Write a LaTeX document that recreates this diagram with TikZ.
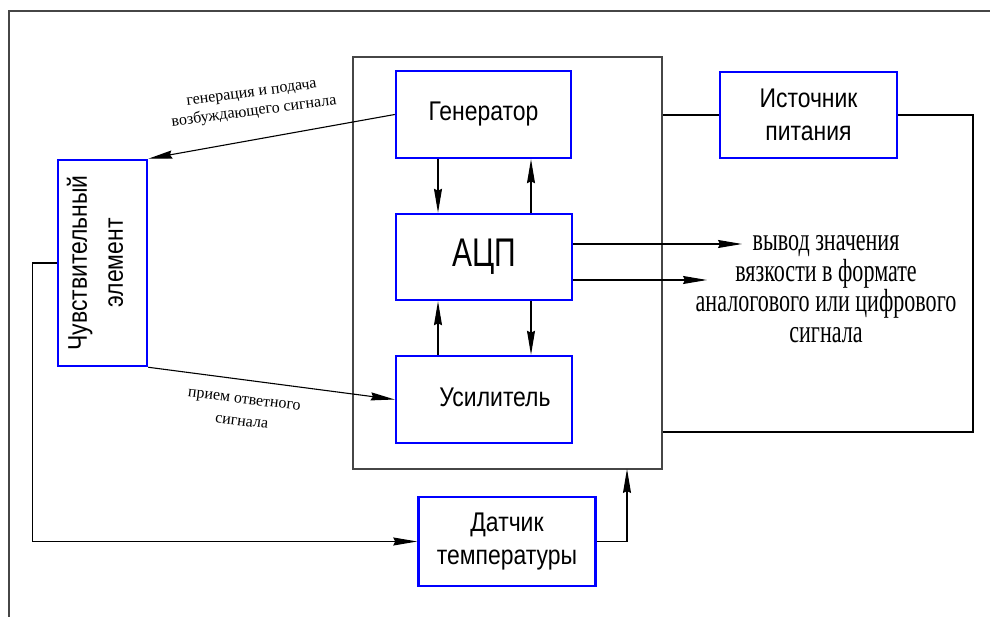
\documentclass[tikz,border=0pt]{standalone}
\usepackage{fontspec}
\setmainfont{Liberation Serif}
\newfontfamily\boxfont[FakeStretch=0.85]{Liberation Sans}
\newfontfamily\adcfont[FakeStretch=0.75]{Liberation Sans}
\newfontfamily\serfont[FakeStretch=0.69]{Liberation Serif}
\usetikzlibrary{arrows.meta}
\definecolor{boxblue}{RGB}{0,0,255}
\definecolor{framegray}{RGB}{70,70,70}
\tikzset{
  blockbox/.style={draw=boxblue, line width=2.5pt, inner sep=0pt, align=center,
    font=\boxfont\fontsize{27}{33}\selectfont},
  conn/.style={draw=black, line width=1.1pt},
  arr/.style={conn, -{Stealth[length=24pt,width=8pt,inset=2pt]}},
  lbl/.style={font=\fontsize{16}{19}\selectfont, align=center, inner sep=0pt}
}
\begin{document}
\begin{tikzpicture}[x=1pt,y=-1pt]
\useasboundingbox[fill=white] (0,0) rectangle (990,617);
% outer sheet frame
\draw[framegray, line width=1.4pt] (9,617) -- (9,11) -- (990,11);
% big frame
\node[draw=framegray, line width=1.5pt, minimum width=309pt, minimum height=412pt, inner sep=0pt] (frame) at (507.5,263) {};
% blocks
\node[blockbox, minimum width=175pt, minimum height=87pt] (gen) at (483.5,114.5) {Генератор};
\node[blockbox, minimum width=176pt, minimum height=86pt, font=\adcfont\fontsize{40}{40}\selectfont] (adc) at (484,257) {АЦП};
\node[blockbox, minimum width=176pt, minimum height=87pt] (amp) at (484,399.5) {};
\node[font=\boxfont\fontsize{27}{33}\selectfont, inner sep=0pt] (amptext) at (495,397) {Усилитель};
\node[blockbox, minimum width=177pt, minimum height=86pt] (power) at (808.5,115) {Источник\\питания};
\node[blockbox, minimum width=89pt, minimum height=206pt] (sensor) at (102.5,263) {};
\node[font=\boxfont\fontsize{27}{36}\selectfont, align=center, rotate=90, inner sep=0pt] (sensortext) at (95,263) {Чувствительный\\элемент};
\node[blockbox, minimum width=177pt, minimum height=89pt] (temp) at (507,541.5) {Датчик\\температуры};
% internal connections
\draw[arr] ([xshift=-45.5pt]gen.south) -- ([xshift=-46pt]adc.north);
\draw[arr] ([xshift=47pt]adc.north) -- ([xshift=47.5pt]gen.south);
\draw[arr] ([xshift=-46pt]amp.north) -- ([xshift=-46pt]adc.south);
\draw[arr] ([xshift=47pt]adc.south) -- ([xshift=47pt]amp.north);
% sensor links
\draw[arr] (gen.west) -- (sensor.north east);
\draw[arr] (sensor.south east) -- (amp.west);
\node[lbl, rotate=7.5] (lblgen) at (253,104) {генерация и подача\\возбуждающего сигнала};
\node[lbl, rotate=-7, font=\fontsize{16}{22}\selectfont] (lblamp) at (243,411) {прием ответного\\сигнала};
% outputs
\coordinate (out1) at (742,244);
\coordinate (out2) at (707,280);
\draw[arr] ([yshift=13pt]adc.east) -- (out1);
\draw[arr] ([yshift=-23pt]adc.east) -- (out2);
\node[font=\serfont\fontsize{32}{30.7}\selectfont, align=center, inner sep=0pt] (outtext) at (826,289)
  {вывод значения\\вязкости в формате\\аналогового или цифрового\\сигнала};
% power
\draw[conn] (frame.east |- power.west) -- (power.west);
\coordinate (pr) at (973,432);
\draw[conn] (power.east) -| (pr) -- (frame.east |- pr);
% temperature sensor
\draw[arr] (sensor.west) -- ++(-24,0) |- (temp.west);
\coordinate (tin) at (627,469);
\draw[arr] (temp.east) -| (tin);
\end{tikzpicture}
\end{document}
